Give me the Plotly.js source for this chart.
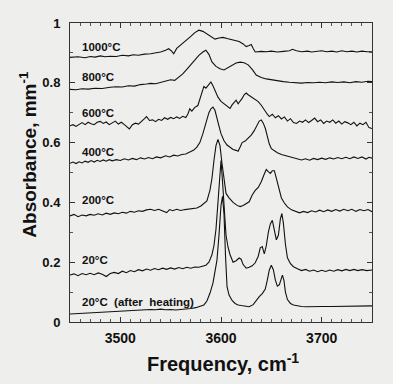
<!DOCTYPE html>
<html><head><meta charset="utf-8">
<script src="https://cdn.plot.ly/plotly-3.0.1.min.js"></script>
<style>html,body{margin:0;padding:0;background:#eeeeec;}</style>
</head><body>
<div id="chart" style="width:393px;height:384px;"></div>
<script>
// Series: frequency (cm^-1) and absorbance (mm^-1), stacked spectra
const x1000 = [3450,3458,3465,3470,3475,3480,3485,3490,3496,3502,3508,3513,3518,3524,3530,3535,3540,3545,3548,3551,3553,3556,3560,3563,3566,3570,3574,3578,3582,3586,3590,3594,3598,3602,3606,3610,3614,3618,3622,3625,3628,3630,3632,3634,3640,3645,3650,3656,3662,3668,3671,3675,3680,3686,3690,3696,3700,3705,3710,3715,3720,3725,3730,3735,3740,3745,3750];
const y1000 = [0.885,0.887,0.884,0.888,0.886,0.890,0.887,0.889,0.888,0.892,0.890,0.894,0.892,0.896,0.897,0.899,0.903,0.909,0.914,0.906,0.897,0.915,0.926,0.935,0.943,0.955,0.968,0.976,0.972,0.964,0.955,0.946,0.950,0.952,0.948,0.945,0.942,0.938,0.930,0.921,0.925,0.928,0.915,0.903,0.905,0.904,0.906,0.903,0.905,0.907,0.912,0.907,0.904,0.906,0.903,0.905,0.907,0.904,0.906,0.903,0.907,0.904,0.906,0.903,0.906,0.904,0.904];

const x800 = [3450,3456,3462,3468,3475,3482,3490,3496,3502,3508,3514,3520,3526,3530,3535,3540,3545,3550,3554,3558,3562,3566,3570,3574,3578,3582,3585,3588,3591,3595,3599,3603,3607,3611,3615,3619,3623,3627,3631,3635,3640,3645,3650,3656,3662,3668,3674,3680,3686,3692,3698,3704,3710,3716,3722,3728,3734,3740,3746,3750];
const y800 = [0.778,0.777,0.780,0.779,0.782,0.781,0.785,0.787,0.786,0.790,0.789,0.794,0.796,0.798,0.797,0.802,0.805,0.810,0.808,0.818,0.830,0.845,0.862,0.878,0.892,0.903,0.909,0.895,0.870,0.855,0.847,0.843,0.850,0.858,0.866,0.869,0.867,0.860,0.845,0.826,0.818,0.813,0.810,0.806,0.804,0.802,0.800,0.799,0.801,0.800,0.802,0.800,0.803,0.801,0.803,0.800,0.804,0.802,0.805,0.804];

const x600 = [3450,3453,3456,3459,3462,3465,3468,3471,3474,3477,3480,3483,3486,3489,3492,3495,3498,3501,3504,3507,3509,3512,3515,3518,3521,3524,3526,3529,3532,3535,3538,3541,3544,3547,3550,3553,3556,3559,3562,3565,3567,3569,3571,3574,3577,3580,3583,3585,3588,3590,3592,3594,3597,3600,3603,3606,3609,3611,3613,3615,3617,3619,3621,3623,3625,3627,3629,3631,3634,3637,3640,3643,3646,3648,3651,3654,3657,3660,3663,3666,3669,3672,3675,3678,3681,3684,3687,3690,3693,3696,3699,3702,3705,3708,3711,3714,3717,3720,3723,3726,3729,3732,3735,3738,3741,3744,3747,3750];
const y600 = [0.656,0.660,0.654,0.662,0.667,0.660,0.668,0.663,0.660,0.668,0.671,0.664,0.669,0.660,0.666,0.672,0.662,0.668,0.660,0.652,0.646,0.660,0.665,0.662,0.670,0.680,0.687,0.674,0.676,0.670,0.678,0.674,0.683,0.678,0.684,0.680,0.686,0.681,0.688,0.684,0.695,0.713,0.705,0.718,0.724,0.760,0.788,0.782,0.796,0.803,0.790,0.772,0.752,0.738,0.730,0.722,0.714,0.726,0.735,0.742,0.730,0.738,0.748,0.760,0.766,0.760,0.755,0.752,0.744,0.737,0.725,0.708,0.695,0.687,0.695,0.683,0.690,0.679,0.686,0.672,0.680,0.667,0.664,0.672,0.668,0.676,0.667,0.674,0.682,0.670,0.676,0.664,0.672,0.668,0.676,0.665,0.672,0.662,0.670,0.666,0.660,0.668,0.656,0.665,0.660,0.668,0.650,0.647];

const x400 = [3450,3453,3456,3459,3462,3465,3468,3471,3474,3477,3480,3483,3486,3489,3492,3496,3500,3504,3508,3512,3516,3520,3524,3528,3532,3536,3540,3545,3549,3553,3557,3561,3565,3569,3573,3576,3579,3582,3585,3588,3590,3592,3594,3596,3598,3600,3603,3606,3609,3612,3615,3617,3619,3621,3624,3627,3630,3633,3636,3638,3640,3642,3644,3646,3648,3650,3653,3656,3660,3664,3668,3672,3676,3680,3684,3688,3692,3696,3700,3704,3708,3712,3716,3720,3724,3728,3732,3736,3740,3744,3747,3750];
const y400 = [0.531,0.535,0.530,0.536,0.532,0.538,0.534,0.540,0.535,0.541,0.537,0.542,0.538,0.543,0.539,0.543,0.540,0.546,0.542,0.547,0.543,0.549,0.545,0.550,0.546,0.552,0.549,0.556,0.552,0.558,0.555,0.560,0.562,0.568,0.575,0.585,0.600,0.630,0.665,0.700,0.713,0.719,0.708,0.685,0.655,0.630,0.606,0.592,0.585,0.577,0.574,0.571,0.585,0.600,0.605,0.615,0.625,0.640,0.660,0.672,0.676,0.665,0.648,0.620,0.595,0.580,0.572,0.566,0.560,0.556,0.552,0.548,0.545,0.542,0.546,0.541,0.547,0.543,0.548,0.544,0.549,0.545,0.550,0.546,0.551,0.546,0.552,0.547,0.552,0.545,0.551,0.548];

const x200 = [3450,3454,3458,3462,3466,3470,3474,3478,3482,3486,3490,3494,3498,3502,3506,3510,3514,3518,3522,3526,3530,3534,3538,3542,3546,3549,3552,3556,3560,3564,3568,3572,3576,3580,3583,3586,3589,3591,3593,3595,3597,3599,3601,3603,3605,3608,3612,3616,3619,3622,3625,3628,3631,3634,3637,3640,3643,3645,3647,3649,3651,3653,3655,3657,3660,3663,3666,3670,3674,3678,3682,3686,3690,3694,3698,3702,3706,3710,3714,3718,3722,3726,3730,3734,3738,3742,3746,3750];
const y200 = [0.355,0.360,0.352,0.358,0.355,0.360,0.357,0.362,0.358,0.364,0.360,0.365,0.362,0.367,0.364,0.370,0.367,0.372,0.370,0.375,0.377,0.373,0.377,0.372,0.366,0.376,0.372,0.377,0.373,0.376,0.378,0.379,0.381,0.388,0.395,0.405,0.440,0.480,0.540,0.590,0.611,0.590,0.530,0.470,0.430,0.415,0.400,0.390,0.386,0.390,0.395,0.402,0.425,0.440,0.450,0.469,0.495,0.510,0.503,0.497,0.506,0.506,0.480,0.450,0.415,0.398,0.385,0.375,0.370,0.365,0.370,0.366,0.372,0.368,0.374,0.369,0.375,0.370,0.376,0.371,0.377,0.372,0.377,0.370,0.376,0.372,0.376,0.369];

const x20 = [3450,3454,3458,3462,3466,3470,3474,3478,3482,3486,3490,3494,3498,3502,3506,3510,3514,3518,3522,3526,3530,3534,3538,3542,3546,3550,3554,3558,3562,3566,3570,3574,3578,3582,3585,3588,3591,3593,3595,3597,3598.5,3600,3601.5,3603,3605,3607,3609,3612,3615,3618,3620,3622,3625,3628,3631,3634,3637,3639,3641,3643,3645,3647,3649,3651,3653,3655,3657,3659,3660.5,3662,3664,3666,3669,3672,3676,3680,3684,3688,3692,3696,3700,3704,3708,3712,3716,3720,3724,3728,3732,3736,3740,3745,3750];
const y20 = [0.157,0.161,0.155,0.162,0.158,0.163,0.158,0.164,0.160,0.152,0.162,0.166,0.162,0.170,0.165,0.172,0.168,0.175,0.171,0.177,0.173,0.179,0.175,0.180,0.176,0.181,0.177,0.182,0.178,0.183,0.180,0.184,0.183,0.186,0.190,0.200,0.225,0.255,0.310,0.400,0.480,0.540,0.470,0.380,0.290,0.250,0.225,0.200,0.205,0.214,0.210,0.192,0.180,0.183,0.188,0.198,0.220,0.248,0.252,0.228,0.255,0.300,0.328,0.340,0.310,0.275,0.290,0.345,0.363,0.330,0.260,0.215,0.195,0.185,0.178,0.172,0.176,0.170,0.174,0.168,0.173,0.169,0.174,0.170,0.175,0.171,0.176,0.172,0.176,0.172,0.175,0.172,0.174];

const xAfter = [3450,3460,3470,3480,3490,3496,3500,3505,3510,3515,3520,3525,3530,3535,3540,3545,3550,3555,3560,3565,3570,3575,3580,3583,3586,3589,3592,3594,3596,3598,3600,3601.5,3603,3604.5,3606,3608,3611,3614,3617,3620,3624,3628,3632,3635,3638,3641,3644,3646,3648,3650,3652,3654,3656,3658,3660,3661,3662.5,3664,3666,3669,3672,3676,3680,3685,3690,3695,3700,3710,3720,3730,3740,3750];
const yAfter = [0.027,0.029,0.031,0.032,0.033,0.034,0.036,0.038,0.037,0.040,0.041,0.040,0.042,0.041,0.043,0.041,0.042,0.040,0.041,0.043,0.045,0.048,0.052,0.057,0.070,0.096,0.130,0.165,0.207,0.290,0.390,0.420,0.360,0.220,0.118,0.090,0.072,0.062,0.057,0.055,0.052,0.051,0.058,0.072,0.085,0.095,0.110,0.140,0.174,0.190,0.175,0.140,0.120,0.125,0.152,0.157,0.140,0.100,0.075,0.062,0.057,0.054,0.052,0.051,0.052,0.051,0.052,0.052,0.053,0.053,0.054,0.054];

const labels = ["1000°C","800°C","600°C","400°C","200°C","20°C","20°C  (after  heating)"];
const labelY = [0.92,0.819,0.699,0.569,0.408,0.207,0.067];
const xTicks = [3500,3600,3700];
const xTitle = 'Frequency, cm<sup>-1</sup>';
const yTitle = 'Absorbance, mm<sup>-1</sup>';

const series = [[x1000,y1000],[x800,y800],[x600,y600],[x400,y400],[x200,y200],[x20,y20],[xAfter,yAfter]];
const traces = series.map(s => ({x:s[0], y:s[1], type:'scatter', mode:'lines', line:{color:'#111', width:1.1}, hoverinfo:'skip'}));

const FONT = 'Liberation Sans, Arial, Helvetica, sans-serif';
const annotations = labels.map((t,i) => ({x:3460, y:labelY[i], xref:'x', yref:'y', text:t, showarrow:false, xanchor:'left', yanchor:'middle', font:{family:FONT, size:11.5, color:'#111', weight:'bold'}}));
annotations.push({xref:'paper', yref:'paper', x:0.508, y:-0.134, text:xTitle, showarrow:false, xanchor:'center', yanchor:'middle', font:{family:FONT, size:20, weight:'bold', color:'#111'}});
annotations.push({xref:'paper', yref:'paper', x:-0.142, y:0.56, text:yTitle, textangle:-90, showarrow:false, xanchor:'center', yanchor:'middle', font:{family:FONT, size:19, weight:'bold', color:'#111'}});

const layout = {
  width:393, height:384,
  margin:{l:70, r:21, t:23, b:62},
  paper_bgcolor:'#eeeeec', plot_bgcolor:'#eeeeec',
  showlegend:false,
  font:{family:FONT, color:'#111'},
  xaxis:{range:[3450,3750], tickvals:xTicks, ticks:'inside', ticklen:5, tickcolor:'#333', showgrid:false, zeroline:false,
    showline:true, linecolor:'#333', linewidth:1, mirror:'ticks', ticklabelstandoff:3,
    minor:{dtick:10, ticks:'inside', ticklen:3, tickcolor:'#555', showgrid:false},
    tickfont:{family:FONT, size:14, weight:'bold', color:'#111'},
    automargin:false},
  yaxis:{range:[0,1], dtick:0.2, tick0:0, ticks:'inside', ticklen:5, tickcolor:'#333', showgrid:false, zeroline:false,
    showline:true, linecolor:'#333', linewidth:1, mirror:'ticks', ticklabelstandoff:6,
    minor:{dtick:0.1, ticks:'inside', ticklen:3, tickcolor:'#555', showgrid:false},
    tickfont:{family:FONT, size:13, weight:'bold', color:'#111'},
    automargin:false},
  annotations:annotations
};
Plotly.newPlot('chart', traces, layout, {staticPlot:true, displayModeBar:false});
</script>
</body></html>
